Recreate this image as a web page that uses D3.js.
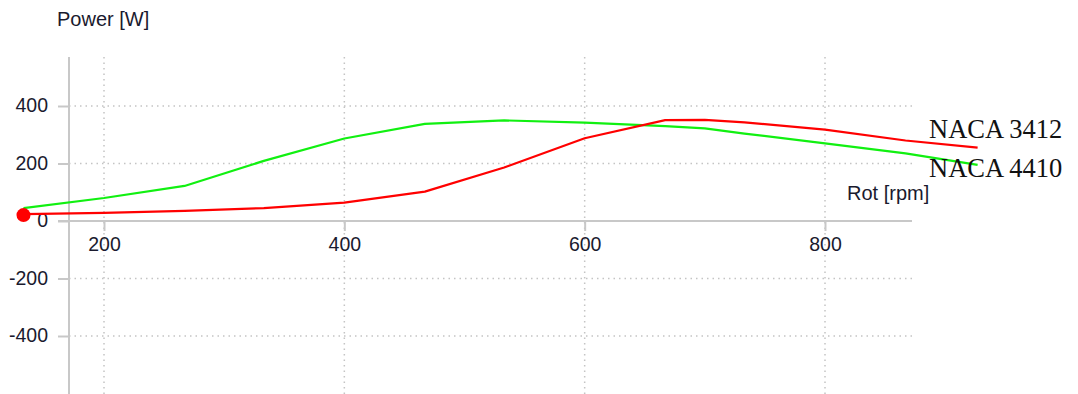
<!DOCTYPE html>
<html>
<head>
<meta charset="utf-8">
<script src="https://cdn.jsdelivr.net/npm/d3@7"></script>
<style>
  html, body { margin: 0; padding: 0; background: #fff; }
  svg { display: block; }
  .tick-label { font-family: "Liberation Sans", Arial, sans-serif; font-size: 19.5px; fill: #1a1a2e; }
  .axis-title { font-family: "Liberation Sans", Arial, sans-serif; font-size: 20px; fill: #1a1a2e; }
  .series-label { font-family: "Liberation Serif", "Times New Roman", serif; font-size: 26.5px; fill: #111; }
</style>
</head>
<body>
<svg id="chart" width="1078" height="394"></svg>
<script>
// Rotor speed samples [rpm]
const rpm = [133, 200, 267, 333, 400, 467, 533, 600, 667, 700, 733, 800, 867, 927];
// Power output [W] for each airfoil
const power3412 = [24, 28, 35, 45, 64, 102, 186, 288, 351, 352, 343, 318, 280, 255];
const power4410 = [45, 80, 122, 209, 287, 338, 350, 342, 330, 322, 304, 270, 235, 195];
const seriesNames = ["NACA 3412", "NACA 4410"];
const seriesColors = ["#ff0000", "#11f011"];
const xTicks = [200, 400, 600, 800];
const yTicks = [-400, -200, 0, 200, 400];
const yGrid = [-400, -200, 200, 400];

const svg = d3.select("#chart");

const x = d3.scaleLinear().domain([200, 800]).range([104, 825]);
const y = d3.scaleLinear().domain([-400, 400]).range([336, 106]);

const axisX = 69;          // vertical axis position
const plotRight = 912;     // end of the horizontal axis / grid
const plotTop = 57;
const plotBottom = 394;

// dotted grid
const grid = svg.append("g").attr("stroke", "#c4c4c4").attr("stroke-width", 1.5)
  .attr("stroke-dasharray", "1.5,4");
grid.selectAll("line.v").data(xTicks).join("line")
  .attr("x1", d => x(d)).attr("x2", d => x(d))
  .attr("y1", plotTop).attr("y2", plotBottom);
grid.selectAll("line.h").data(yGrid).join("line")
  .attr("x1", axisX).attr("x2", plotRight)
  .attr("y1", d => y(d)).attr("y2", d => y(d));

// axes drawn with d3-axis, then restyled
const yAxis = svg.append("g").attr("transform", `translate(${axisX},0)`)
  .call(d3.axisLeft(y).tickValues(yTicks).tickSize(11).tickPadding(10).tickFormat(d3.format("d")));
yAxis.select(".domain").remove();
yAxis.selectAll(".tick line").attr("stroke", "#c8c8c8").attr("stroke-width", 2);
yAxis.selectAll(".tick text").attr("class", "tick-label").attr("font-size", null).attr("font-family", null)
  .attr("fill", null).attr("dy", "0.3em").text(d => d < 0 ? "-" + Math.abs(d) : d);
yAxis.append("line").attr("x1", 0).attr("x2", 0).attr("y1", plotTop).attr("y2", plotBottom)
  .attr("stroke", "#c8c8c8").attr("stroke-width", 2);

const xAxis = svg.append("g").attr("transform", `translate(0,${y(0)})`)
  .call(d3.axisBottom(x).tickValues(xTicks).tickSize(10).tickPadding(6).tickFormat(d3.format("d")));
xAxis.select(".domain").remove();
xAxis.selectAll(".tick line").attr("stroke", "#c8c8c8").attr("stroke-width", 2);
xAxis.selectAll(".tick text").attr("class", "tick-label").attr("font-size", null).attr("font-family", null)
  .attr("fill", null);
xAxis.append("line").attr("x1", 58).attr("x2", plotRight).attr("y1", 0).attr("y2", 0)
  .attr("stroke", "#c8c8c8").attr("stroke-width", 2);

// axis titles
svg.append("text").attr("class", "axis-title").attr("x", 57).attr("y", 26).text("Power [W]");
svg.append("text").attr("class", "axis-title").attr("x", 847).attr("y", 200).text("Rot [rpm]");

// power curves
const line = d3.line().x((d, i) => x(rpm[i])).y(d => y(d));
const series = [power3412, power4410];
// draw 4410 first so 3412 sits on top
[1, 0].forEach(k => {
  svg.append("path").datum(series[k])
    .attr("d", line)
    .attr("fill", "none")
    .attr("stroke", seriesColors[k])
    .attr("stroke-width", 2.2)
    .attr("stroke-linejoin", "round");
});

// operating point marker at the first sample
svg.append("circle").attr("cx", x(rpm[0])).attr("cy", y(power3412[0]) + 1).attr("r", 7)
  .attr("fill", "#ff0000");

// series names at line ends
svg.append("text").attr("class", "series-label").attr("x", 929).attr("y", 138).text(seriesNames[0]);
svg.append("text").attr("class", "series-label").attr("x", 929).attr("y", 177).text(seriesNames[1]);
</script>
</body>
</html>
